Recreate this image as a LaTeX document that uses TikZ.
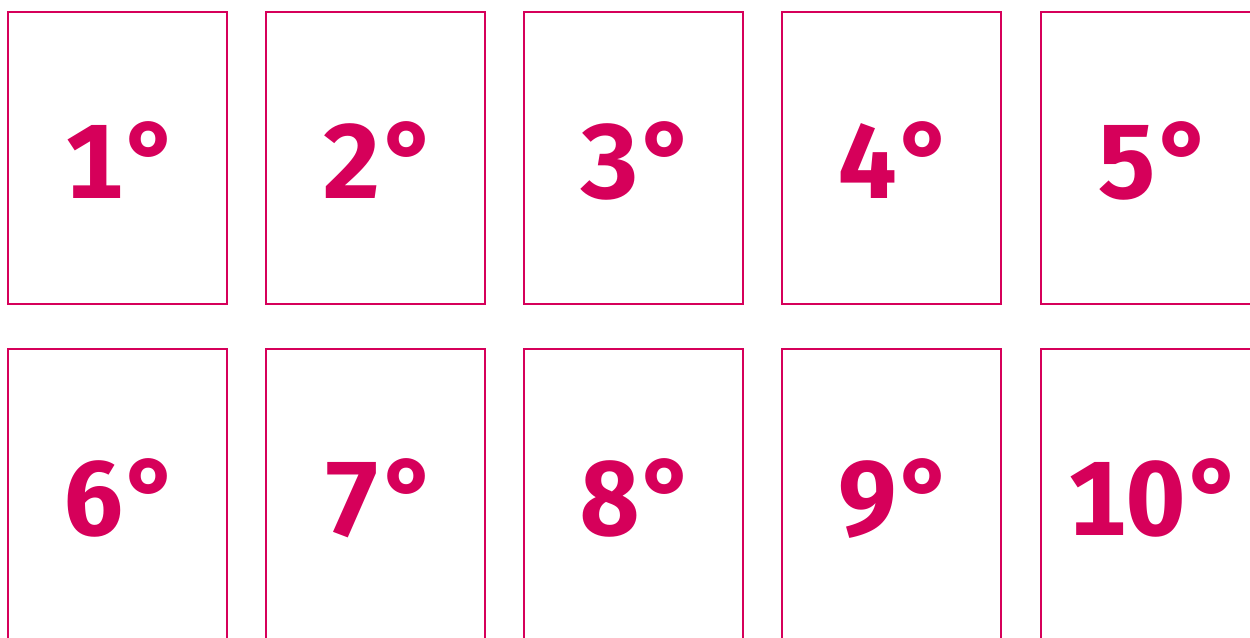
\documentclass[tikz,border=0pt]{standalone}
\usepackage{fontspec}
\newfontfamily\degfont[Numbers=Monospaced]{Fira Sans}
\definecolor{rank}{RGB}{214,0,90}
\tikzset{
  cell/.style={draw=rank, line width=1.15pt, minimum width=4.38cm, minimum height=5.84cm, inner sep=0pt},
  num/.style={inner sep=0pt, text=rank, font=\degfont\bfseries\fontsize{60}{64}\selectfont,
    text height=46pt, text depth=0pt}
}
\begin{document}
\begin{tikzpicture}
\useasboundingbox (0,0) rectangle (25,-12.76);
\clip (0,0) rectangle (25,-12.76);
\foreach \n/\x/\y in {1/2.35/-3.16, 2/7.51/-3.16, 3/12.67/-3.16, 4/17.83/-3.16, 5/23.01/-3.16,
                      6/2.35/-9.90, 7/7.51/-9.90, 8/12.67/-9.90, 9/17.83/-9.90, 10/23.01/-9.90}
{
  \node[cell] (c\n) at (\x,\y) {};
  \node[num] (n\n) at ([xshift=3.4pt]c\n.center) {\n°};
}
\end{tikzpicture}
\end{document}
